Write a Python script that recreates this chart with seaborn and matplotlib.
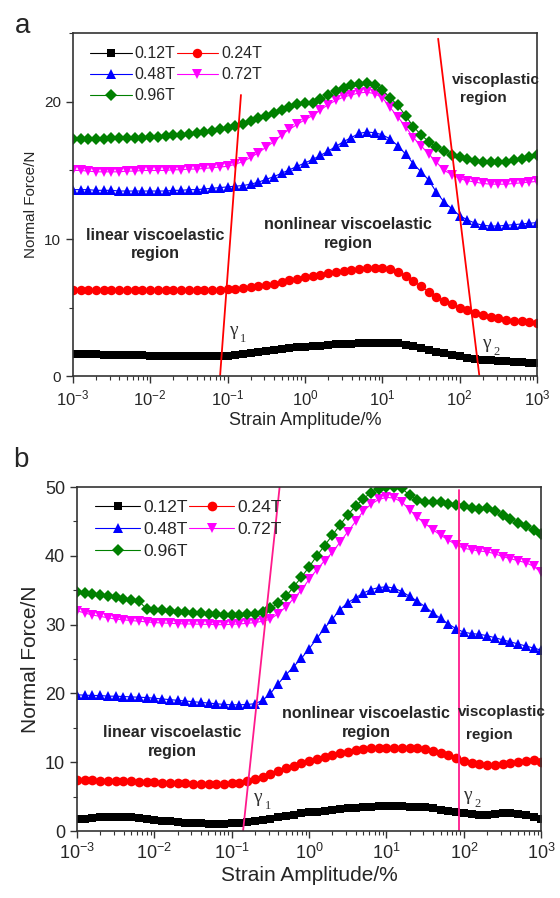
import numpy as np
import matplotlib
matplotlib.use("Agg")
import matplotlib.pyplot as plt
import seaborn as sns
from matplotlib.ticker import MultipleLocator, LogLocator, NullFormatter

# strain sweep grid, 10 points per decade from 1e-3 to 1e3 %
strain = np.logspace(-3, 3, 61)
decades = [1e-3, 1e-2, 1e-1, 1e0, 1e1, 1e2, 1e3]

labels = ["0.12T", "0.24T", "0.48T", "0.72T", "0.96T"]
colors = ["black", "red", "blue", "magenta", "green"]
markers = ["s", "o", "^", "v", "D"]

# ---- panel a : normal force (N) ----
a_012 = [1.65, 1.63, 1.62, 1.60, 1.58, 1.57, 1.55, 1.54, 1.53, 1.52, 1.50,
         1.49, 1.48, 1.47, 1.46, 1.46, 1.45, 1.45, 1.46, 1.47, 1.50,
         1.55, 1.62, 1.70, 1.78, 1.85, 1.92, 1.98, 2.04, 2.10, 2.15,
         2.20, 2.24, 2.28, 2.32, 2.35, 2.38, 2.40, 2.42, 2.44, 2.45,
         2.44, 2.40, 2.30, 2.18, 2.05, 1.92, 1.80, 1.68, 1.55, 1.45,
         1.36, 1.28, 1.22, 1.17, 1.12, 1.08, 1.05, 1.02, 1.00, 0.98]
a_024 = [6.30, 6.30, 6.29, 6.29, 6.28, 6.28, 6.28, 6.27, 6.27, 6.27, 6.27,
         6.27, 6.27, 6.27, 6.28, 6.28, 6.28, 6.29, 6.30, 6.32, 6.35,
         6.38, 6.42, 6.48, 6.55, 6.65, 6.75, 6.88, 7.00, 7.10, 7.20,
         7.30, 7.40, 7.50, 7.60, 7.70, 7.78, 7.85, 7.90, 7.92, 7.90,
         7.80, 7.60, 7.30, 6.95, 6.55, 6.15, 5.80, 5.50, 5.25, 5.00,
         4.80, 4.62, 4.46, 4.33, 4.22, 4.13, 4.05, 4.00, 3.95, 3.90]
a_048 = [13.6, 13.6, 13.6, 13.55, 13.55, 13.55, 13.5, 13.5, 13.5, 13.5, 13.5,
         13.5, 13.5, 13.55, 13.55, 13.6, 13.6, 13.65, 13.7, 13.75, 13.8,
         13.85, 13.9, 14.0, 14.15, 14.35, 14.55, 14.8, 15.05, 15.3, 15.55,
         15.8, 16.1, 16.4, 16.75, 17.1, 17.4, 17.7, 17.8, 17.75, 17.6,
         17.3, 16.8, 16.2, 15.5, 14.9, 14.3, 13.4, 12.7, 12.2, 11.7,
         11.4, 11.15, 11.0, 10.95, 10.95, 11.0, 11.05, 11.1, 11.15, 11.2]
a_072 = [15.0, 15.0, 14.95, 14.9, 14.9, 14.9, 14.9, 14.95, 14.95, 15.0, 15.0,
         15.0, 15.0, 15.05, 15.05, 15.1, 15.1, 15.15, 15.2, 15.25, 15.3,
         15.45, 15.65, 15.95, 16.3, 16.7, 17.1, 17.6, 18.0, 18.35, 18.7,
         19.0, 19.4, 19.8, 20.1, 20.35, 20.5, 20.65, 20.7, 20.6, 20.3,
         19.6, 18.9, 18.2, 17.4, 16.8, 16.2, 15.6, 15.0, 14.7, 14.4,
         14.25, 14.15, 14.05, 14.0, 14.0, 14.0, 14.05, 14.1, 14.15, 14.2]
a_096 = [17.3, 17.3, 17.3, 17.3, 17.3, 17.35, 17.35, 17.4, 17.4, 17.4, 17.45,
         17.45, 17.5, 17.55, 17.6, 17.65, 17.7, 17.8, 17.9, 18.0, 18.1,
         18.25, 18.4, 18.6, 18.8, 19.0, 19.2, 19.4, 19.65, 19.85, 19.95,
         19.9, 20.2, 20.5, 20.8, 21.0, 21.2, 21.3, 21.35, 21.2, 20.85,
         20.3, 19.75, 19.0, 18.2, 17.6, 17.1, 16.7, 16.4, 16.15, 15.95,
         15.8, 15.7, 15.6, 15.6, 15.6, 15.65, 15.75, 15.85, 16.0, 16.15]

# ---- panel b : normal force (N) ----
b_012 = [1.7, 1.8, 1.9, 2.0, 2.0, 2.05, 2.0, 2.0, 1.95, 1.8, 1.65,
         1.5, 1.4, 1.3, 1.2, 1.15, 1.1, 1.05, 1.0, 1.05, 1.1,
         1.2, 1.3, 1.45, 1.6, 1.8, 2.0, 2.2, 2.4, 2.55, 2.7,
         2.8, 2.95, 3.05, 3.15, 3.3, 3.4, 3.5, 3.55, 3.6, 3.6,
         3.6, 3.6, 3.55, 3.5, 3.45, 3.3, 3.1, 2.95, 2.75, 2.6,
         2.45, 2.35, 2.4, 2.5, 2.6, 2.55, 2.45, 2.35, 2.1, 1.7]
b_024 = [7.4, 7.4, 7.35, 7.3, 7.3, 7.25, 7.2, 7.2, 7.15, 7.1, 7.1,
         7.05, 7.0, 7.0, 6.95, 6.9, 6.9, 6.85, 6.85, 6.9, 6.95,
         7.05, 7.25, 7.55, 7.9, 8.3, 8.7, 9.1, 9.5, 9.85, 10.2,
         10.5, 10.8, 11.1, 11.35, 11.55, 11.75, 11.9, 12.0, 12.1, 12.1,
         12.1, 12.1, 12.05, 12.0, 11.9, 11.7, 11.4, 11.0, 10.6, 10.2,
         9.9, 9.7, 9.6, 9.6, 9.7, 9.9, 10.1, 10.2, 10.3, 10.0, 9.4]
b_048 = [19.8, 19.75, 19.7, 19.7, 19.6, 19.6, 19.55, 19.5, 19.45, 19.4, 19.3,
         19.2, 19.1, 19.0, 18.9, 18.8, 18.7, 18.6, 18.5, 18.4, 18.35,
         18.35, 18.4, 18.5, 19.0, 20.0, 21.4, 22.7, 23.9, 25.1, 26.5,
         28.0, 29.5, 30.8, 32.2, 33.2, 33.9, 34.6, 35.1, 35.4, 35.5,
         35.3, 34.8, 34.1, 33.4, 32.6, 31.7, 30.9, 30.1, 29.4, 28.9,
         28.7, 28.6, 28.4, 28.1, 27.8, 27.5, 27.2, 26.9, 26.6, 26.3]
b_072 = [32.0, 31.7, 31.4, 31.2, 31.0, 30.8, 30.7, 30.6, 30.5, 30.4, 30.3,
         30.25, 30.2, 30.15, 30.1, 30.1, 30.05, 30.05, 30.0, 30.0, 30.05,
         30.1, 30.2, 30.3, 30.5, 30.8, 31.6, 32.6, 33.8, 35.0, 36.6,
         38.0, 39.3, 40.5, 42.0, 43.5, 45.0, 46.5, 47.5, 48.2, 48.5,
         48.4, 47.8, 46.7, 45.6, 44.7, 43.8, 43.0, 42.3, 41.6, 41.1,
         40.9, 40.7, 40.6, 40.3, 39.9, 39.6, 39.3, 39.0, 38.5, 37.6]
b_096 = [34.8, 34.6, 34.5, 34.3, 34.1, 34.0, 33.8, 33.6, 33.4, 32.3, 32.2,
         32.1, 32.0, 31.9, 31.8, 31.7, 31.65, 31.6, 31.5, 31.4, 31.4,
         31.4, 31.5, 31.6, 31.8, 32.4, 33.1, 34.1, 35.5, 36.9, 38.4,
         40.0, 41.5, 43.0, 44.5, 46.0, 47.2, 48.3, 49.2, 49.7, 50.0,
         50.0, 49.8, 48.8, 48.1, 47.9, 47.8, 47.8, 47.6, 47.4, 47.3,
         46.9, 46.8, 47.0, 46.5, 46.0, 45.4, 44.8, 44.3, 43.8, 43.2]

# boundary lines (strain %, force N)
a_gamma1 = ([0.080, 0.149], [0.0, 20.5])
a_gamma2 = ([52.7, 179.0], [24.6, 0.1])
b_gamma1 = ([0.14, 0.42], [0.0, 50.5])
b_gamma2 = ([87.0, 87.0], [0.0, 49.6])

sns.set_style("ticks")
plt.rcParams["font.family"] = ["Liberation Sans", "DejaVu Sans"]
plt.rcParams["mathtext.fontset"] = "custom"
plt.rcParams["mathtext.rm"] = "Liberation Sans"
plt.rcParams["mathtext.it"] = "Liberation Sans:italic"
plt.rcParams["mathtext.bf"] = "Liberation Sans:bold"

fig = plt.figure(figsize=(5.6, 8.98), dpi=100)
ax_a = fig.add_axes([0.130, 0.581, 0.829, 0.382])
ax_b = fig.add_axes([0.1375, 0.0746, 0.829, 0.383])


def draw_panel(ax, series, ms, fs_tick_x, fs_tick_y, fs_leg, leg_anchor):
    for vals, lab, c, m in zip(series, labels, colors, markers):
        size = ms * {"s": 0.9, "D": 0.85}.get(m, 1.0)
        sns.lineplot(x=strain, y=vals[:len(strain)], ax=ax, color=c, marker=m,
                     markersize=size, markeredgewidth=0, linewidth=0.8,
                     label=lab)
    hs, ls = ax.get_legend_handles_labels()
    order = [0, 2, 4, 1, 3]
    ax.legend([hs[i] for i in order], [ls[i] for i in order], ncol=2,
              loc="upper left", bbox_to_anchor=leg_anchor, frameon=False,
              fontsize=fs_leg, handlelength=2.6, handletextpad=0.2,
              columnspacing=0.05, labelspacing=0.38, borderpad=0,
              borderaxespad=0)
    ax.set_xscale("log")
    ax.set_xlim(1e-3, 1e3)
    ax.set_xticks(decades)
    ax.xaxis.set_minor_locator(LogLocator(base=10, subs=np.arange(2, 10), numticks=20))
    ax.xaxis.set_minor_formatter(NullFormatter())
    for s in ax.spines.values():
        s.set_color("#333333")
        s.set_linewidth(1.2)
    ax.tick_params(axis="x", which="major", direction="out", length=5,
                   width=1, labelsize=fs_tick_x, color="#333333")
    ax.tick_params(axis="y", which="major", direction="out", length=5,
                   width=1, labelsize=fs_tick_y, color="#333333")
    ax.tick_params(which="minor", direction="out", length=3, width=0.8,
                   color="#333333")


def gamma(ax, gx, gy, sub):
    ax.annotate("γ", (gx, gy), ha="left", va="center", fontsize=14,
                family="Liberation Serif", color="#333333")
    ax.annotate(sub, (gx, gy), xytext=(8, -6), textcoords="offset points",
                ha="left", va="center", fontsize=9,
                family="Liberation Serif", color="#333333")


draw_panel(ax_a, [a_012, a_024, a_048, a_072, a_096], 6.8, 12, 11, 11.5,
           (0.037, 0.962))
ax_a.set_ylim(0, 25)
ax_a.yaxis.set_major_locator(MultipleLocator(10))
ax_a.yaxis.set_minor_locator(MultipleLocator(5))
ax_a.set_xlabel("Strain Amplitude/%", fontsize=13, labelpad=3)
ax_a.set_ylabel("Normal Force/N", fontsize=11, labelpad=4)
ax_a.plot(*a_gamma1, color="red", lw=1.3)
ax_a.plot(*a_gamma2, color="red", lw=1.3)
ax_a.text(0.0117, 9.6, "linear viscoelastic\nregion", ha="center",
          va="center", fontsize=11.5, fontweight="bold", linespacing=1.3)
ax_a.text(3.6, 10.35, "nonlinear viscoelastic\nregion", ha="center",
          va="center", fontsize=11.5, fontweight="bold", linespacing=1.3)
ax_a.text(80, 21.6, "viscoplastic", ha="left", va="center", fontsize=11,
          fontweight="bold")
ax_a.text(102, 20.3, "region", ha="left", va="center", fontsize=11,
          fontweight="bold")
gamma(ax_a, 0.105, 3.35, "1")
gamma(ax_a, 195, 2.4, "2")
fig.text(0.027, 0.985, "a", fontsize=20, va="top", ha="left")

draw_panel(ax_b, [b_012, b_024, b_048, b_072, b_096], 7.0, 13, 13, 12.5,
           (0.039, 0.962))
ax_b.set_ylim(0, 50)
ax_b.yaxis.set_major_locator(MultipleLocator(10))
ax_b.yaxis.set_minor_locator(MultipleLocator(5))
ax_b.set_xlabel("Strain Amplitude/%", fontsize=15, labelpad=2)
ax_b.set_ylabel("Normal Force/N", fontsize=15, labelpad=4)
ax_b.plot(*b_gamma1, color="#ff1a8c", lw=1.3)
ax_b.plot(*b_gamma2, color="#ff1a8c", lw=1.3)
ax_b.text(0.017, 12.9, "linear viscoelastic\nregion", ha="center",
          va="center", fontsize=11.5, fontweight="bold", linespacing=1.3)
ax_b.text(5.5, 15.7, "nonlinear viscoelastic\nregion", ha="center",
          va="center", fontsize=11.5, fontweight="bold", linespacing=1.3)
ax_b.text(83, 17.3, "viscoplastic", ha="left", va="center", fontsize=11,
          fontweight="bold")
ax_b.text(105, 14.0, "region", ha="left", va="center", fontsize=11,
          fontweight="bold")
gamma(ax_b, 0.19, 4.9, "1")
gamma(ax_b, 98, 5.2, "2")
fig.text(0.024, 0.502, "b", fontsize=20, va="top", ha="left")

fig.savefig("out.png", dpi=100)
